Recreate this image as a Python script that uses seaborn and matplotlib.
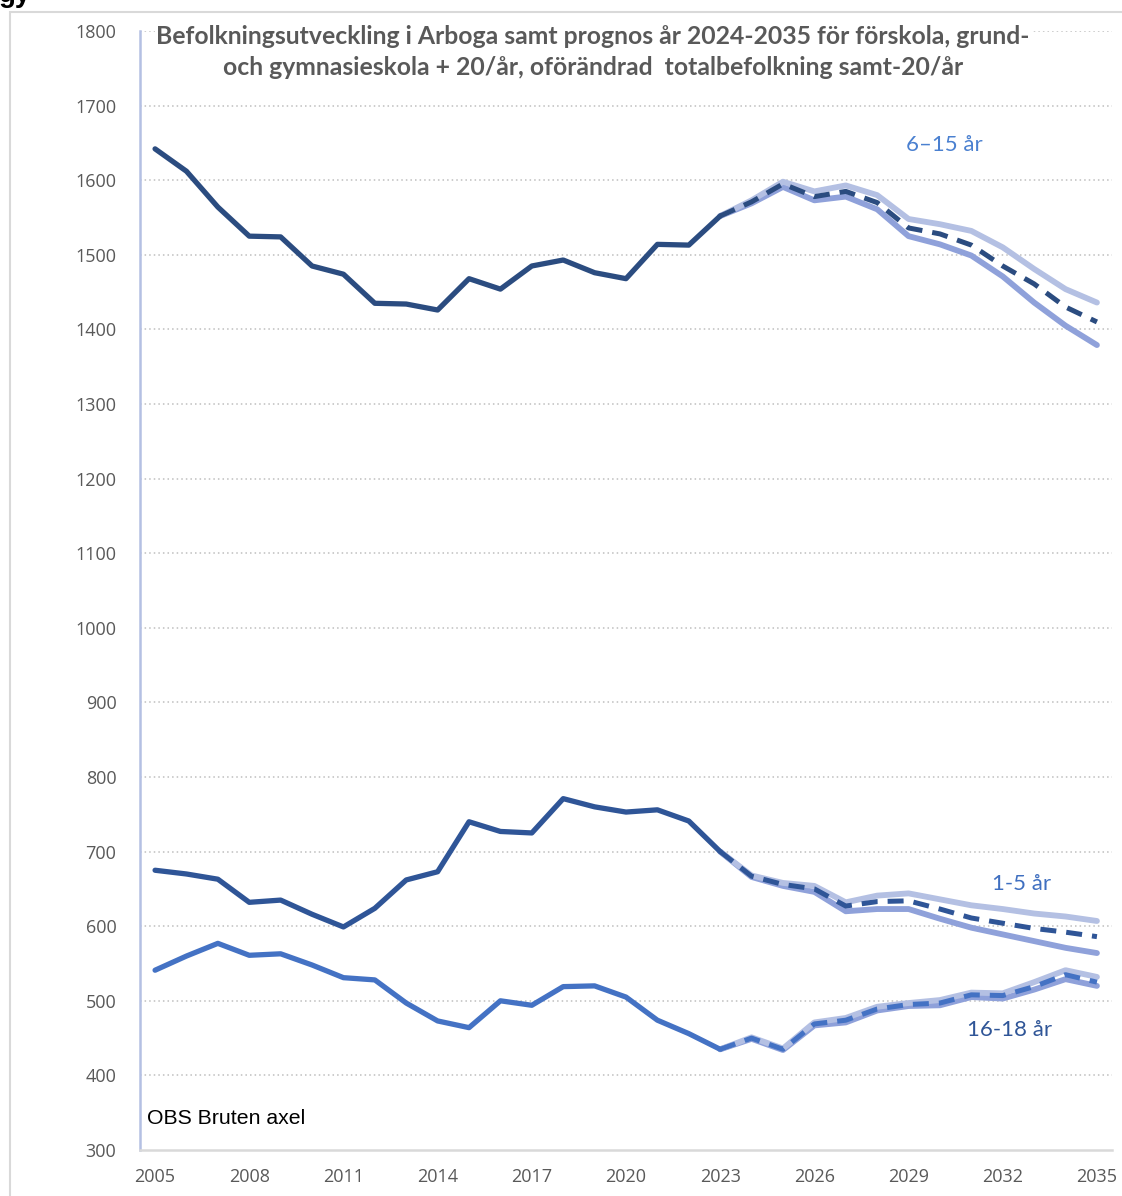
import numpy as np
import pandas as pd
import seaborn as sns
import matplotlib.pyplot as plt
from matplotlib.patches import Rectangle

# historical years and values
years_hist = list(range(2005, 2024))
years_prog = list(range(2023, 2036))

age_6_15_hist = [1642, 1612, 1564, 1525, 1524, 1485, 1474, 1435, 1434, 1426,
                 1468, 1454, 1485, 1493, 1476, 1468, 1514, 1513, 1552]
age_6_15_high = [1552, 1573, 1598, 1585, 1593, 1580, 1548, 1541, 1532, 1510, 1481, 1454, 1436]
age_6_15_mid = [1552, 1571, 1595, 1578, 1585, 1570, 1536, 1528, 1513, 1485, 1461, 1430, 1410]
age_6_15_low = [1552, 1569, 1591, 1573, 1578, 1561, 1525, 1514, 1499, 1471, 1436, 1405, 1379]

age_1_5_hist = [675, 670, 663, 632, 635, 616, 599, 624, 662, 673,
                740, 727, 725, 771, 760, 753, 756, 741, 700]
age_1_5_high = [700, 668, 658, 654, 632, 641, 644, 636, 628, 623, 617, 613, 607]
age_1_5_mid = [700, 667, 656, 650, 627, 633, 634, 623, 611, 604, 597, 592, 586]
age_1_5_low = [700, 666, 654, 646, 620, 623, 623, 610, 598, 589, 580, 571, 564]

age_16_18_hist = [541, 560, 577, 561, 563, 548, 531, 528, 497, 473,
                  464, 500, 494, 519, 520, 505, 474, 456, 435]
age_16_18_high = [435, 451, 436, 471, 477, 492, 497, 501, 511, 510, 525, 541, 532]
age_16_18_mid = [435, 450, 435, 469, 474, 489, 495, 497, 508, 507, 519, 535, 525]
age_16_18_low = [435, 449, 434, 467, 471, 487, 493, 494, 505, 503, 515, 529, 520]

x_ticks = list(range(2005, 2036, 3))
y_ticks = list(range(300, 1801, 100))

title = ('Befolkningsutveckling i Arboga samt prognos år 2024-2035 för förskola, grund-\n'
         'och gymnasieskola + 20/år, oförändrad  totalbefolkning samt-20/år')

# colours
c_6_15 = '#2b4c80'
c_1_5 = '#2f5597'
c_16_18 = '#4472c4'
c_high = '#b4c0e3'
c_low = '#8fa1da'
tick_grey = '#595959'

sns.set_theme(style='white')
plt.rcParams['font.family'] = ['Lato', 'DejaVu Sans']

fig = plt.figure(figsize=(11.22, 11.96), dpi=100)
ax = fig.add_axes([140 / 1122, 1 - 1150 / 1196, 972 / 1122, 1119 / 1196])

# outer frame of the chart
fig.patches.append(Rectangle((10 / 1122, -0.01), 1.2, 1 - 12 / 1196 + 0.01,
                             transform=fig.transFigure, fill=False,
                             edgecolor='#d9d9d9', lw=1.5, zorder=0))

groups = [
    (age_6_15_hist, age_6_15_high, age_6_15_mid, age_6_15_low, c_6_15),
    (age_1_5_hist, age_1_5_high, age_1_5_mid, age_1_5_low, c_1_5),
    (age_16_18_hist, age_16_18_high, age_16_18_mid, age_16_18_low, c_16_18),
]

for hist, high, mid, low, col in groups:
    sns.lineplot(x=years_prog, y=low, ax=ax, color=c_low, lw=4.2,
                 solid_capstyle='round', zorder=3)
    sns.lineplot(x=years_prog, y=high, ax=ax, color=c_high, lw=4.2,
                 solid_capstyle='round', zorder=3)
    sns.lineplot(x=years_prog, y=mid, ax=ax, color=col, lw=3.6,
                 zorder=4).lines[-1].set_dashes([3.2, 2.0])
    sns.lineplot(x=years_hist, y=hist, ax=ax, color=col, lw=3.8,
                 solid_capstyle='round', zorder=5)

ax.set_xlim(2004.52, 2035.48)
ax.set_ylim(300, 1800)
ax.set_xticks(x_ticks)
ax.set_yticks(y_ticks)
ax.tick_params(axis='both', length=0, labelsize=13, colors=tick_grey)
ax.tick_params(axis='x', pad=13)
ax.tick_params(axis='y', pad=17)
for lbl in ax.get_xticklabels() + ax.get_yticklabels():
    lbl.set_fontfamily(['Open Sans', 'DejaVu Sans'])
ax.set_xlabel('')
ax.set_ylabel('')

for yv in y_ticks[1:]:
    ax.axhline(yv, color='#bfbfbf', lw=1.1, ls=(0, (1, 2)), zorder=1)

for side in ['top', 'right']:
    ax.spines[side].set_visible(False)
ax.spines['left'].set_color('#b4c0e3')
ax.spines['left'].set_linewidth(1.8)
ax.spines['bottom'].set_color('#d9d9d9')
ax.spines['bottom'].set_linewidth(1.8)

ax.text(0.5 * (158 + 1028) / 1122, 1 - 52 / 1196, title, transform=fig.transFigure,
        ha='center', va='center', fontsize=17.8, fontweight='bold', color=tick_grey,
        linespacing=1.4, zorder=6,
        bbox=dict(facecolor='white', edgecolor='none', pad=1))

ax.text(944 / 1122, 1 - 145 / 1196, '6–15 år', transform=fig.transFigure,
        ha='center', va='center', fontsize=16, color='#4a80d0')
ax.text(1022 / 1122, 1 - 884 / 1196, '1-5 år', transform=fig.transFigure,
        ha='center', va='center', fontsize=16, color='#3f6fc0')
ax.text(1010 / 1122, 1 - 1030 / 1196, '16-18 år', transform=fig.transFigure,
        ha='center', va='center', fontsize=16, color='#2f5597')

fig.text(147 / 1122, 1 - 1118 / 1196, 'OBS Bruten axel', ha='left', va='center',
         fontsize=15.3, color='black', family='Liberation Sans')

# clipped heading fragment at the very top (cut off in the original too)
fig.text(-0.001, 1 - 2 / 1196, 'gy', ha='left', va='baseline', fontsize=20,
         fontweight='bold', color='black', family='Liberation Sans')

fig.savefig('out.png', dpi=100)
